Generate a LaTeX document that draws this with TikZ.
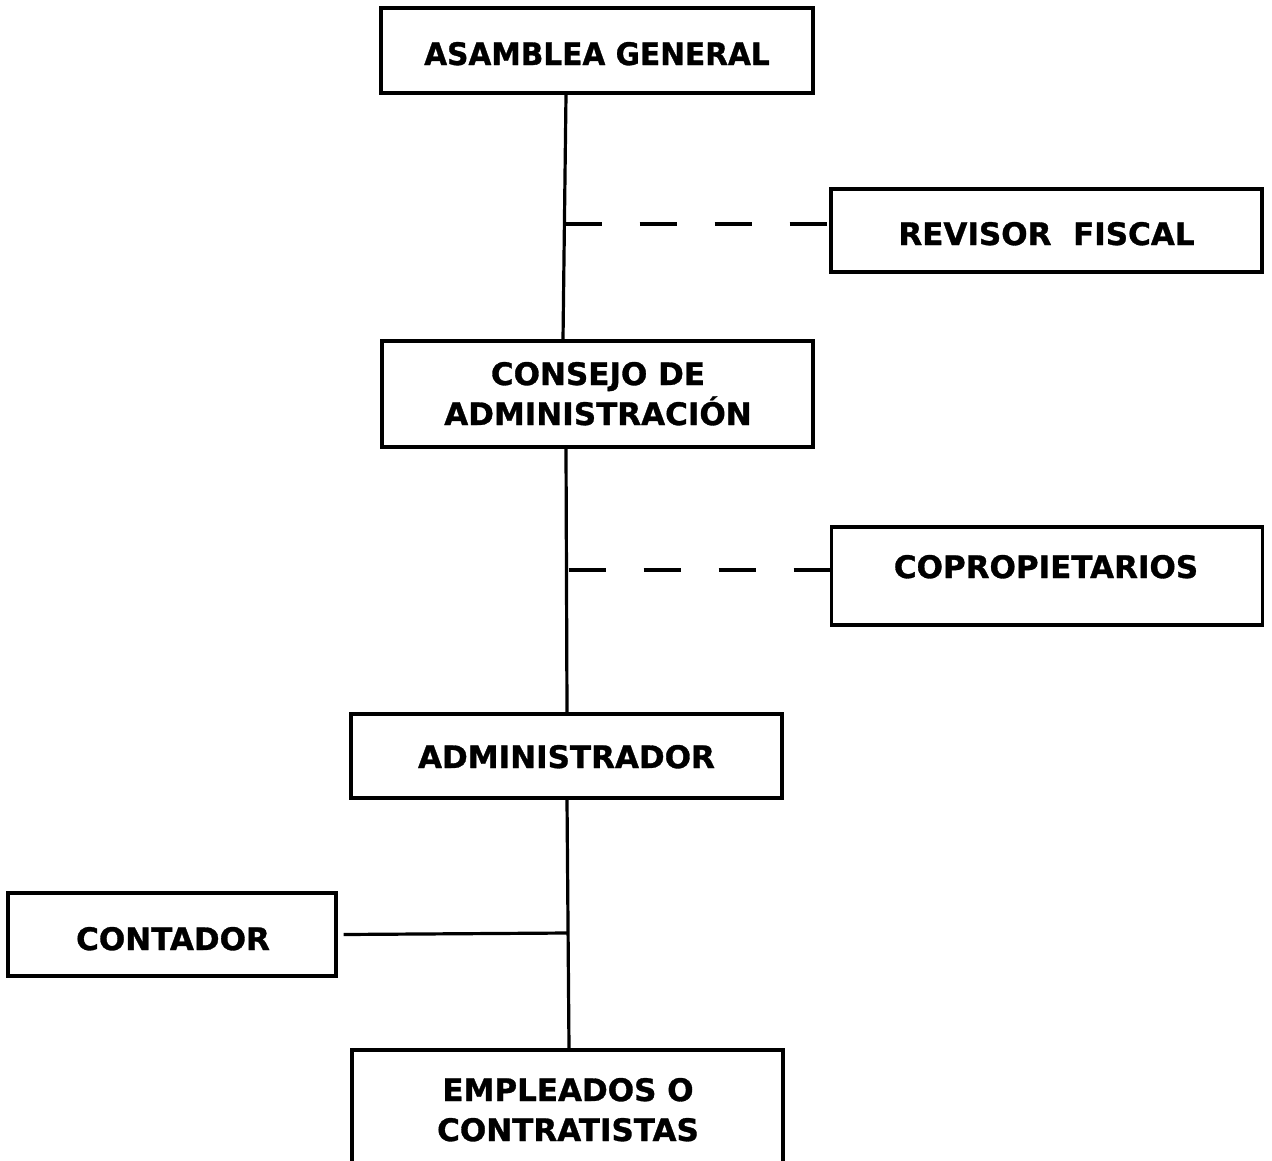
\documentclass[tikz,border=0pt]{standalone}
\usepackage{fontspec}
\setmainfont{DejaVu Sans}
\newfontfamily\orgfont{DejaVu Sans Bold}[FakeBold=1]
\begin{document}
\begin{tikzpicture}[x=1pt,y=-1pt,
  orgbox/.style args={#1/#2}{draw=black, line width=3.2pt, minimum width=#1pt,
    minimum height=#2pt, inner sep=0pt},
  lbl/.style={font=\fontsize{31}{40}\selectfont\orgfont, anchor=base,
    align=center, inner sep=0pt},
  link/.style={draw=black, line width=3.2pt},
  dashlink/.style={draw=black, line width=3.2pt, dash pattern=on 37pt off 38pt}]
\useasboundingbox (0,0) rectangle (1272,1160);
\clip (0,0) rectangle (1272,1160);

% boxes
\node[orgbox=432/85]  (asamblea)  at (597,50.5)   {};
\node[orgbox=431/83]  (revisor)   at (1046.5,230.5) {};
\node[orgbox=431/106] (consejo)   at (597.5,394)  {};
\node[orgbox=431/98]  (copro)     at (1047,576)   {};
\node[orgbox=431/84]  (admin)     at (566.5,756)  {};
\node[orgbox=328/83]  (contador)  at (172,934.5)  {};
\node[orgbox=431/150] (empleados) at (567.5,1125) {};

% labels (two-line labels are anchored at the baseline of their last line)
\node[lbl] (tasamblea) at (597,65)    {\scalebox{0.955}[1]{ASAMBLEA GENERAL}};
\node[lbl] (trevisor)  at (1046.5,245) {REVISOR\ \ FISCAL};
\node[lbl] (tconsejo)  at (598,425)   {CONSEJO DE\\ADMINISTRACIÓN};
\node[lbl] (tcopro)    at (1046,578)  {COPROPIETARIOS};
\node[lbl] (tadmin)    at (566.5,768) {ADMINISTRADOR};
\node[lbl] (tcontador) at (173,950)   {CONTADOR};
\node[lbl] (templeados) at (568,1141) {EMPLEADOS O\\CONTRATISTAS};

% trunk positions
\coordinate (xa) at (566,0);
\coordinate (xb) at (563,0);
\coordinate (xc) at (567,0);
\coordinate (xd) at (569,0);

\draw[link] (asamblea.south -| xa) -- (consejo.north -| xb);
\draw[link] (consejo.south -| xa) -- (admin.north -| xc);
\draw[link] (admin.south -| xc) -- (empleados.north -| xd);

% side branches
\coordinate (j1) at (564.5,224);
\coordinate (j2) at (568.5,570);
\coordinate (j3) at (568,933);
\draw[dashlink] (j1) -- (j1 -| revisor.west);
\draw[dashlink] (j2) -- (j2 -| copro.west);
\draw[link] (j3) -- ([xshift=6pt]contador.east);
\end{tikzpicture}
\end{document}
